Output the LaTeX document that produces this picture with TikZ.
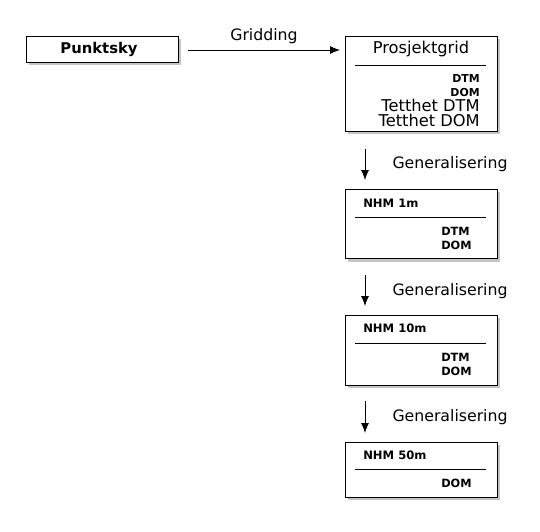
\documentclass[tikz,border=0pt]{standalone}
\usepackage{fontspec}
\setmainfont{DejaVu Sans}
\usetikzlibrary{arrows.meta,positioning,shadows}

\tikzset{
  boks/.style={draw, fill=white, line width=0.75pt, anchor=north west,
    minimum width=114pt, inner sep=0pt,
    drop shadow={shadow xshift=2pt, shadow yshift=-2pt, fill=black!45}},
  tittel/.style={font=\fontsize{12.2}{14}\selectfont},
  nhm/.style={font=\fontsize{8.7}{10}\selectfont\bfseries, anchor=west, inner sep=0pt},
  lag/.style={font=\fontsize{8.5}{10}\selectfont\bfseries, anchor=west, inner sep=0pt},
  liten/.style={font=\fontsize{8.2}{10}\selectfont\bfseries, anchor=east, inner sep=0pt},
  tetthet/.style={font=\fontsize{12.2}{14}\selectfont, anchor=east, inner sep=0pt,
    text height=8.9pt, text depth=0pt},
  pil/.style={-{Latex[length=7.5pt,width=6pt]}, line width=0.6pt},
  pillabel/.style={font=\fontsize{11.8}{14}\selectfont}
}

\begin{document}
\begin{tikzpicture}[x=0.75pt, y=-0.75pt]
  \useasboundingbox (0,0) rectangle (540,532);
  % Bokser
  \node[boks, minimum height=19.5pt] (punkt) at (26,36) {};
  \node[boks, minimum height=71pt] (pg) at (345,36) {};
  \node[boks, minimum height=52pt] (n1) at (345,189) {};
  \node[boks, minimum height=52.5pt] (n10) at (345,315) {};
  \node[boks, minimum height=41pt] (n50) at (345,442) {};

  % Tekst
  \node[font=\fontsize{11.1}{13}\selectfont\bfseries] (punkttxt) at (99,49) {Punktsky};
  \node[tittel] (pgtxt) at (421,49) {Prosjektgrid};
  \draw (355,65) -- (486,65);
  \node[liten] (pgdtm) at (480,79) {DTM};
  \node[liten] (pgdom) at (480,93) {DOM};
  \node[tetthet] (tdtm) at (480,106) {Tetthet DTM};
  \node[tetthet] (tdom) at (480,121) {Tetthet DOM};

  \node[nhm] (n1txt) at (363,203) {NHM 1m};
  \draw (355,217) -- (486,217);
  \node[lag] (n1dtm) at (441,231) {DTM};
  \node[lag] (n1dom) at (441,245) {DOM};

  \node[nhm] (n10txt) at (363,328) {NHM 10m};
  \draw (355,343) -- (486,343);
  \node[lag] (n10dtm) at (441,357) {DTM};
  \node[lag] (n10dom) at (441,371) {DOM};

  \node[nhm] (n50txt) at (363,455) {NHM 50m};
  \draw (355,469) -- (486,469);
  \node[lag] (n50dom) at (441,483) {DOM};

  % Piler
  \draw[pil] ([shift={(9,14)}]punkt.north east) -- node[pillabel, above=1pt] {Gridding} ([shift={(-5,14)}]pg.north west);
  \draw[pil] ([shift={(20,17)}]pg.south west) -- node[pillabel, right=17pt] {Generalisering} ([shift={(20,-9)}]n1.north west);
  \draw[pil] ([shift={(20,16)}]n1.south west) -- node[pillabel, right=17pt] {Generalisering} ([shift={(20,-9)}]n10.north west);
  \draw[pil] ([shift={(20,15)}]n10.south west) -- node[pillabel, right=17pt] {Generalisering} ([shift={(20,-9)}]n50.north west);
\end{tikzpicture}
\end{document}
